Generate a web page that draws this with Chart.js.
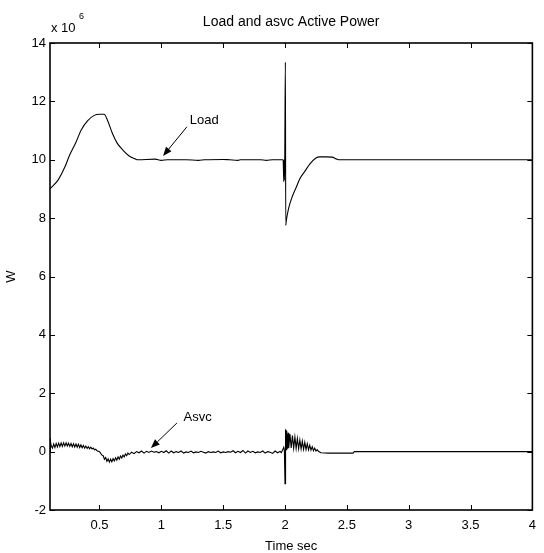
<!DOCTYPE html>
<html>
<head>
<meta charset="utf-8">
<script src="https://cdn.jsdelivr.net/npm/chart.js@4.4.1/dist/chart.umd.min.js"></script>
<style>
html,body{margin:0;padding:0;background:#fff;}
#wrap{width:544px;height:553px;}
</style>
</head>
<body>
<div id="wrap"><canvas id="c" width="544" height="553"></canvas></div>
<script>
// ---- data (values in units of 10^6 W) ----
const loadTime = [0.10,0.166,0.219,0.259,0.312,0.352,0.405,0.458,0.498,0.538,0.564,0.604,0.643,0.687,0.74,0.789,0.81,
  0.95,1.00,1.05,1.20,1.30,1.35,1.50,1.55,1.62,1.64,1.80,1.85,1.90,1.95,1.985,
  1.990,1.993,1.995,1.998,2.003,2.006,2.010,2.03,2.06,2.09,2.12,2.16,2.20,2.25,2.28,2.33,2.38,2.42,2.45,4.00];
const loadPower = [9.00,9.31,9.74,10.16,10.62,11.02,11.34,11.52,11.56,11.56,11.36,10.91,10.57,10.34,10.13,10.03,10.00,
  10.02,9.98,10.00,10.00,9.98,10.00,10.01,10.00,9.98,10.00,10.00,9.98,10.00,10.00,10.00,
  9.25,10.00,9.30,10.00,13.34,7.75,7.90,8.35,8.75,9.05,9.35,9.60,9.85,10.06,10.10,10.10,10.09,10.02,10.00,10.00];

const asvcTime = [0.100,0.102,0.105,0.11,0.12,0.13,0.14,0.15,0.16,0.17,0.18,0.19,0.20,0.21,0.22,0.23,0.24,0.25,0.26,0.27,0.28,0.29,0.30,
  0.31,0.32,0.33,0.34,0.35,0.36,0.37,0.38,0.39,0.40,0.41,0.42,0.43,0.44,0.45,0.46,0.47,0.48,0.50,0.52,
  0.53,0.54,0.55,0.56,0.57,0.58,0.59,0.60,0.61,0.62,0.63,0.64,0.65,0.66,0.67,0.68,0.69,0.70,0.71,0.72,0.73,0.74,0.76,0.78,0.80,0.82,0.84,
  0.86,0.88,0.90,0.92,0.94,0.96,0.98,1.00,1.02,1.04,1.06,1.08,1.10,1.12,1.14,1.16,1.18,1.20,1.22,1.24,1.26,1.28,1.30,1.32,1.34,1.36,1.38,1.40,
  1.42,1.44,1.46,1.48,1.50,1.52,1.54,1.56,1.58,1.60,1.62,1.64,1.66,1.68,1.70,1.72,1.74,1.76,1.78,1.80,1.82,1.84,1.86,1.88,1.90,1.92,1.94,1.96,1.97,1.98,1.99,1.995,
  2.000,2.003,2.006,2.009,2.012,2.015,2.02,2.025,2.03,2.04,2.05,2.06,2.07,2.08,2.09,2.10,2.11,2.12,2.13,2.14,2.15,2.16,2.17,2.18,2.19,2.20,
  2.21,2.22,2.23,2.24,2.25,2.26,2.27,2.29,2.35,2.55,2.56,4.00];
const asvcPower = [0.45,-0.05,0.35,0.20,0.12,0.26,0.14,0.28,0.16,0.29,0.17,0.30,0.18,0.30,0.19,0.30,0.19,0.29,0.18,0.28,0.17,0.27,0.16,
  0.26,0.15,0.25,0.14,0.23,0.13,0.21,0.12,0.19,0.11,0.17,0.10,0.15,0.09,0.12,0.06,0.08,0.03,0.00,-0.12,
  -0.14,-0.26,-0.20,-0.33,-0.25,-0.36,-0.26,-0.35,-0.24,-0.32,-0.21,-0.29,-0.18,-0.26,-0.15,-0.22,-0.12,-0.18,-0.08,-0.14,-0.05,-0.10,-0.02,-0.07,0.00,-0.04,0.02,
  -0.05,0.01,-0.03,0.02,-0.02,0.00,-0.04,0.01,-0.03,0.03,-0.05,0.02,-0.04,0.00,-0.03,0.02,-0.05,-0.01,-0.03,0.02,-0.04,-0.01,-0.03,0.01,-0.02,-0.05,0.00,-0.03,
  -0.01,-0.03,0.02,-0.04,-0.01,-0.03,0.00,-0.02,0.03,-0.04,0.01,-0.03,0.04,-0.05,0.02,-0.03,0.01,-0.04,-0.01,-0.03,0.02,-0.05,0.00,-0.02,-0.06,0.02,-0.04,0.01,-0.03,0.05,0.15,0.05,
  -1.10,0.77,0.00,0.72,0.05,0.70,0.10,0.65,0.12,0.60,0.13,0.55,0.12,0.50,0.11,0.45,0.10,0.40,0.09,0.36,0.08,0.32,0.07,0.27,0.06,0.22,
  0.05,0.17,0.03,0.12,0.02,0.07,0.01,-0.04,-0.05,-0.05,0.00,0.00];

const xTicks = [0.5,1,1.5,2,2.5,3,3.5,4];
const yTicks = [-2,0,2,4,6,8,10,12,14];
const xTickLabels = ['0.5','1','1.5','2','2.5','3','3.5','4'];
const yTickLabels = ['-2','0','2','4','6','8','10','12','14'];
const chartTitle = 'Load and asvc Active Power';

// annotation anchors in data units
const loadNote = {text:'Load', tip:[1.014,10.13], tail:[1.207,11.13], label:[1.23,11.34]};
const asvcNote = {text:'Asvc', tip:[0.916,0.12], tail:[1.126,0.98], label:[1.18,1.18]};

const FONT = '"Liberation Sans", Arial, Helvetica, sans-serif';

function toXY(ts, vs){ return ts.map((t,i)=>({x:t, y:vs[i]})); }

const framePlugin = {
  id:'frame',
  afterDraw(chart){
    const {ctx, chartArea:a, scales:{x, y}} = chart;
    ctx.save();
    ctx.strokeStyle = '#000';
    ctx.lineWidth = 1;
    ctx.beginPath();
    xTicks.forEach(v=>{
      const px = Math.round(x.getPixelForValue(v)) + 0.5;
      ctx.moveTo(px, a.bottom); ctx.lineTo(px, a.bottom - 5);
      ctx.moveTo(px, a.top); ctx.lineTo(px, a.top + 5);
    });
    yTicks.forEach(v=>{
      const py = Math.round(y.getPixelForValue(v)) + 0.5;
      ctx.moveTo(a.left, py); ctx.lineTo(a.left + 5, py);
      ctx.moveTo(a.right, py); ctx.lineTo(a.right - 5, py);
    });
    ctx.stroke();
    ctx.lineWidth = 1.6;
    ctx.strokeRect(a.left, a.top, a.right - a.left, a.bottom - a.top);

    ctx.fillStyle = '#000';
    // title
    ctx.font = '14px ' + FONT;
    ctx.textAlign = 'center';
    ctx.textBaseline = 'middle';
    ctx.fillText(chartTitle, (a.left + a.right) / 2, 22);

    // exponent label
    ctx.textBaseline = 'alphabetic';
    ctx.textAlign = 'left';
    ctx.font = '13px ' + FONT;
    ctx.fillText('x 10', a.left + 1, a.top - 11);
    ctx.font = '9px ' + FONT;
    ctx.fillText('6', a.left + 29, a.top - 24);

    // annotations
    [loadNote, asvcNote].forEach(n=>{
      const tx = x.getPixelForValue(n.tip[0]), ty = y.getPixelForValue(n.tip[1]);
      const sx = x.getPixelForValue(n.tail[0]), sy = y.getPixelForValue(n.tail[1]);
      const ang = Math.atan2(ty - sy, tx - sx);
      const hl = 9, hw = 3.5;
      const bx = tx - hl*Math.cos(ang), by = ty - hl*Math.sin(ang);
      ctx.lineWidth = 1;
      ctx.beginPath(); ctx.moveTo(sx, sy); ctx.lineTo(bx, by); ctx.stroke();
      ctx.beginPath();
      ctx.moveTo(tx, ty);
      ctx.lineTo(bx + hw*Math.sin(ang), by - hw*Math.cos(ang));
      ctx.lineTo(bx - hw*Math.sin(ang), by + hw*Math.cos(ang));
      ctx.closePath(); ctx.fill();
      ctx.font = '13px ' + FONT;
      ctx.textBaseline = 'middle';
      ctx.textAlign = 'left';
      ctx.fillText(n.text, x.getPixelForValue(n.label[0]), y.getPixelForValue(n.label[1]));
    });
    ctx.restore();
  }
};

new Chart(document.getElementById('c'), {
  type: 'line',
  data: {
    datasets: [
      {label:'Load', data: toXY(loadTime, loadPower), borderColor:'#000', borderWidth:1.1, pointRadius:0, cubicInterpolationMode:'monotone', fill:false},
      {label:'Asvc', data: toXY(asvcTime, asvcPower), borderColor:'#000', borderWidth:1.1, pointRadius:0, tension:0, fill:false}
    ]
  },
  options: {
    responsive: false,
    animation: false,
    devicePixelRatio: 1,
    layout: {padding: {left:0, right:5, top:43, bottom:0}},
    plugins: {
      legend: {display:false},
      tooltip: {enabled:false},
      title: {display:false}
    },
    scales: {
      x: {
        type:'linear', min:0.1, max:4,
        afterBuildTicks: s => { s.ticks = xTicks.map(v=>({value:v})); },
        afterFit: s => { s.height = 43; },
        grid:{display:false, drawTicks:false},
        border:{display:false},
        ticks:{color:'#000', padding:8, autoSkip:false, maxRotation:0,
          font:{family:FONT, size:13},
          callback:(v,i)=> xTickLabels[i]},
        title:{display:true, text:'Time sec', color:'#000', font:{family:FONT, size:13}, padding:{top:0, bottom:-1}}
      },
      y: {
        type:'linear', min:-2, max:14,
        afterBuildTicks: s => { s.ticks = yTicks.map(v=>({value:v})); },
        afterFit: s => { s.width = 50; },
        grid:{display:false, drawTicks:false},
        border:{display:false},
        ticks:{color:'#000', padding:4, autoSkip:false,
          font:{family:FONT, size:13},
          callback:(v,i)=> yTickLabels[i]},
        title:{display:true, text:'W', color:'#000', font:{family:FONT, size:13}, padding:{top:4, bottom:0}}
      }
    }
  },
  plugins:[framePlugin]
});
</script>
</body>
</html>
